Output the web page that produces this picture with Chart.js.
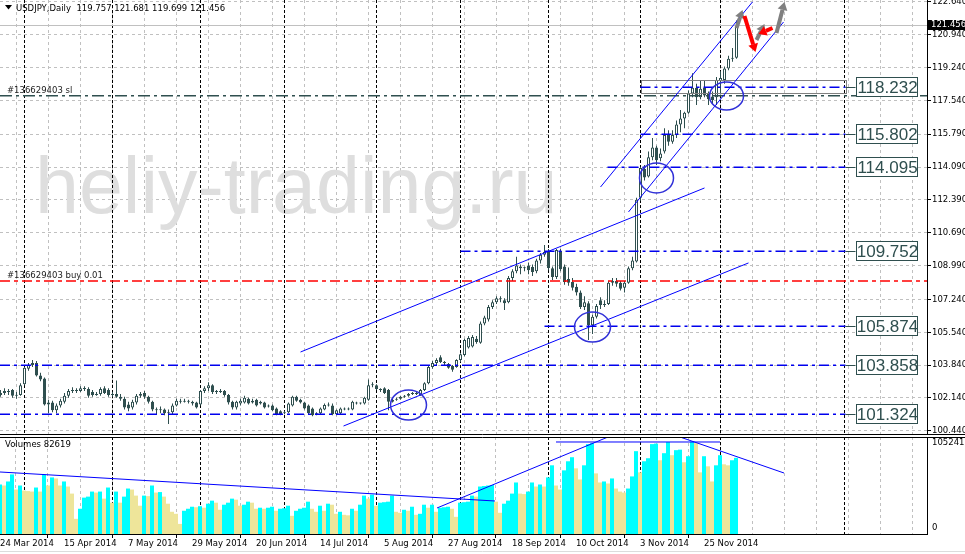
<!DOCTYPE html>
<html>
<head>
<meta charset="utf-8">
<script src="https://cdn.jsdelivr.net/npm/chart.js@4.4.1/dist/chart.umd.min.js"></script>
<style>
  html, body { margin: 0; padding: 0; background: #fff; overflow: hidden; }
  #wrap { position: relative; width: 965px; height: 554px; }
  canvas { position: absolute; left: 0; }
  #cPrice { top: 0; }
  #cVol { top: 437px; }
</style>
</head>
<body>
<div id="wrap">
  <canvas id="cPrice" width="965" height="435"></canvas>
  <canvas id="cVol" width="965" height="117"></canvas>
</div>
<script>
// USDJPY Daily, bar 0 = 24 Mar 2014 ... bar 184 = 5 Dec 2014
const opens = [
  102.30,102.40,102.50,102.55,102.25,102.30,102.85,103.65,103.85,103.95,
  103.30,103.15,101.80,101.90,101.50,101.75,101.95,102.25,102.50,102.55,
  102.50,102.65,102.60,102.45,102.30,102.35,102.65,102.55,102.30,102.35,
  102.20,102.10,101.80,101.65,101.90,102.25,102.40,102.20,101.95,101.55,
  101.50,101.55,101.35,101.40,101.75,102.00,101.95,102.00,101.95,101.90,
  101.80,102.50,102.65,102.80,102.45,102.45,102.50,102.30,101.95,101.65,
  101.85,101.90,102.10,101.90,102.05,101.85,101.90,101.70,101.75,101.60,
  101.45,101.35,101.40,101.75,102.20,102.05,101.90,101.75,101.60,101.30,
  101.35,101.55,101.78,101.75,101.30,101.35,101.55,101.55,101.55,101.90,
  101.85,101.85,102.05,102.80,102.80,102.55,102.65,102.55,101.95,102.05,
  102.10,102.20,102.25,102.35,102.35,102.30,102.55,102.90,103.75,103.95,
  104.25,103.95,103.90,103.80,103.75,104.10,104.37,104.75,104.80,105.20,
  105.00,106.00,106.20,106.85,107.10,107.25,107.20,107.10,108.35,108.70,
  108.95,108.85,109.00,108.92,108.70,109.25,109.55,109.70,108.85,108.40,
  109.75,108.95,108.30,108.15,107.90,107.60,106.85,107.05,105.90,106.35,
  107.20,106.95,107.00,108.10,108.20,108.10,107.85,108.10,108.85,109.20,
  112.50,114.00,113.60,114.60,115.10,114.55,114.90,115.75,115.40,115.75,
  116.30,116.60,116.90,117.90,118.20,117.70,118.20,117.90,117.75,117.70,
  118.55,118.60,119.20,119.70,119.757
];
const highs = [
  102.55,102.65,102.60,102.60,102.45,102.90,103.75,103.95,104.10,104.05,
  103.45,103.20,102.05,102.00,101.85,102.10,102.40,102.60,102.70,102.65,
  102.75,102.75,102.70,102.55,102.45,102.70,102.75,102.65,102.45,103.05,
  102.35,102.20,101.95,102.05,102.35,102.45,102.50,102.25,102.00,101.65,
  101.70,101.60,101.55,101.85,102.10,102.10,102.10,102.05,102.00,101.95,
  102.55,102.75,102.95,102.85,102.55,102.60,102.55,102.35,102.00,102.00,
  102.10,102.25,102.15,102.10,102.10,102.00,101.95,101.80,101.80,101.65,
  101.50,101.45,101.90,102.25,102.25,102.10,101.95,101.80,101.65,101.40,
  101.65,101.85,101.90,101.85,101.55,101.65,101.65,101.65,102.00,101.95,
  101.90,102.20,103.10,102.95,102.85,102.65,102.70,102.60,102.15,102.15,
  102.25,102.30,102.40,102.45,102.45,102.60,102.95,103.80,104.05,104.20,
  104.35,104.05,103.95,103.85,104.15,104.45,105.20,105.35,105.40,105.35,
  106.10,106.40,106.95,107.20,107.40,107.40,107.30,108.45,108.80,109.45,
  109.05,108.95,109.15,109.05,109.35,109.65,110.06,109.85,108.95,109.85,
  109.85,109.05,108.90,108.35,108.05,107.70,107.40,107.15,106.45,107.00,
  107.35,107.20,108.20,108.35,108.35,108.20,108.20,108.95,109.45,112.50,
  114.10,114.20,114.90,115.60,115.20,115.05,116.10,116.00,116.00,116.50,
  117.05,116.95,118.05,118.95,118.40,118.60,118.55,118.00,118.00,118.75,
  119.05,119.30,119.85,120.25,121.681
];
const lows = [
  102.20,102.30,102.30,102.15,102.10,102.25,102.80,103.55,103.75,103.25,
  103.00,101.75,101.35,101.40,101.35,101.65,101.85,102.15,102.40,102.40,
  102.45,102.50,102.15,102.20,102.25,102.25,102.35,102.20,102.20,102.15,
  102.00,101.55,101.45,101.55,101.80,102.15,102.10,101.85,101.45,101.30,
  101.35,101.25,100.80,101.30,101.70,101.85,101.90,101.85,101.75,101.60,
  101.75,102.40,102.50,102.35,102.35,102.40,102.20,101.80,101.55,101.55,
  101.75,101.85,101.80,101.85,101.70,101.80,101.60,101.65,101.45,101.25,
  101.25,101.30,101.35,101.70,101.95,101.85,101.55,101.30,101.20,101.25,
  101.30,101.50,101.70,101.25,101.25,101.30,101.50,101.50,101.50,101.80,
  101.80,101.80,102.00,102.70,102.55,102.45,102.35,101.50,101.90,102.00,
  102.05,102.15,102.20,102.30,102.30,102.25,102.50,102.85,103.65,103.85,
  103.95,103.85,103.65,103.50,103.70,104.00,104.30,104.70,104.75,104.95,
  104.95,105.90,106.10,106.75,107.00,107.10,106.70,107.05,108.20,108.60,
  108.55,108.70,108.55,108.45,108.60,109.10,109.45,108.75,108.25,108.30,
  108.70,108.00,107.95,107.70,107.45,106.75,106.70,105.14,105.45,106.25,
  106.75,106.85,106.95,107.95,107.90,107.70,107.60,108.05,108.75,109.15,
  112.35,113.40,113.55,114.45,114.20,114.40,114.80,115.20,115.30,115.60,
  115.90,116.10,116.85,117.70,117.30,117.60,117.70,117.30,117.35,117.30,
  117.85,118.40,119.10,119.55,119.699
];
const closes = [
  102.40,102.50,102.45,102.25,102.30,102.80,103.70,103.85,103.95,103.30,
  103.10,101.80,101.90,101.50,101.75,102.00,102.25,102.50,102.55,102.50,
  102.65,102.60,102.25,102.30,102.35,102.60,102.40,102.30,102.30,102.20,
  102.10,101.65,101.60,101.95,102.25,102.35,102.20,101.95,101.55,101.50,
  101.55,101.35,101.40,101.75,102.00,101.95,102.00,101.95,101.85,101.65,
  102.50,102.65,102.80,102.45,102.45,102.50,102.30,101.90,101.65,101.95,
  102.00,102.15,101.85,102.00,101.75,101.95,101.65,101.72,101.50,101.30,
  101.30,101.40,101.85,102.20,102.00,101.90,101.60,101.35,101.25,101.35,
  101.60,101.78,101.75,101.30,101.50,101.60,101.55,101.60,101.95,101.85,
  101.85,102.15,102.80,102.80,102.60,102.55,102.40,101.95,102.05,102.10,
  102.20,102.25,102.35,102.35,102.40,102.55,102.90,103.75,103.95,104.10,
  104.00,103.95,103.70,103.60,104.10,104.40,105.14,105.25,105.30,105.04,
  106.00,106.30,106.85,107.10,107.30,107.25,107.05,108.35,108.70,109.00,
  108.85,108.90,108.75,108.66,109.25,109.55,109.70,108.87,108.40,109.80,
  108.80,108.15,108.10,107.85,107.60,106.85,107.10,105.90,106.35,106.90,
  106.95,107.00,108.10,108.20,108.05,107.80,108.10,108.85,109.25,112.40,
  114.05,113.55,114.60,115.10,114.45,114.80,115.75,115.40,115.75,116.30,
  116.60,116.90,117.90,118.20,117.70,118.15,117.80,117.60,117.55,118.60,
  118.70,119.20,119.70,119.757,121.456
];
const volumes = [
  53700,52610,56990,64660,48220,52610,47130,46580,46030,50420,
  46030,64660,52610,61380,60280,52610,56990,51510,43840,16440,
  27400,39460,40550,46030,44940,46030,38360,50420,33980,46030,
  33980,40550,49320,48220,41650,30690,41650,41100,52610,44940,
  45480,40550,32880,24110,21920,10960,25210,27400,29590,29040,
  30140,28500,32880,36170,33980,26300,31780,33980,38360,37260,
  30690,31780,35070,33980,27400,28500,27400,28500,29590,25210,
  27400,27950,30690,19730,25210,27400,28500,35070,27400,24110,
  30690,25210,32880,31780,21920,24110,20820,20280,27400,25210,
  31780,41650,38360,42740,30690,33980,34520,35070,41650,24110,
  23020,26300,25210,29590,20820,21920,31780,28500,31780,24110,
  28500,29040,29590,27400,18630,33980,34520,35070,41650,40550,
  51510,52060,52610,53160,35070,23020,32880,36170,43840,55900,
  43840,43290,46030,55900,51510,53700,51510,61380,74530,52610,
  48220,69050,78910,83300,71240,59180,74530,97540,98640,65760,
  55900,56990,54800,60280,49320,46030,44940,49320,62470,89870,
  66860,78910,82200,97540,98090,80010,87680,99740,85490,90970,
  91520,77820,84390,100280,98640,66860,84390,73430,56990,74530,
  85490,75620,74530,80010,82619
];

// axes
const priceTicks = [100.44,102.14,103.84,105.54,107.24,108.99,110.69,112.39,114.09,115.79,117.54,119.24,120.94,122.64];
const PRICE_MIN = 100.276, PRICE_MAX = 122.74;
const VOL_MAX = 105241;
const tickIdx = [0,16,32,48,64,80,96,112,128,144,160,176];
const tickLabels = ['24 Mar 2014','15 Apr 2014','7 May 2014','29 May 2014','20 Jun 2014','14 Jul 2014',
                    '5 Aug 2014','27 Aug 2014','18 Sep 2014','10 Oct 2014','3 Nov 2014','25 Nov 2014'];
const gridIdx = [0,8,16,24,32,40,48,56,64,72,80,88,96,104,112,120,128,136,144,152,160,168,176,184,192,200,208,216,224];
const monthIdx = [6,28,50,71,94,115,137,160,180,211];

// drawn objects (bar index, price)
const levelPrices = [118.232,115.802,114.095,109.752,105.874,103.858,101.324];
const levelStart  = [160,160,151.75,115,136,-1,-1];
const LEVEL_END = 211.25, BOX_LEFT = 213.75;
const slPrice = 117.79, buyPrice = 108.2, bidPrice = 121.456;
const zoneTop = 118.6, zoneBottom = 117.93, zoneFrom = 160;
const trendLines = [
  [75, 104.52, 176, 113.01],
  [85.75, 100.69, 187, 109.13],
  [150, 113.06, 188, 122.64],
  [157, 111.77, 195.75, 121.60]
];
const circles = [[102, 101.78], [148, 105.81], [164, 113.53], [181.5, 117.77]];
const arrowsGray = [[184, 121.29, 185.5, 122.22], [189, 120.67, 191, 121.5], [194, 121.03, 196, 122.64]];
const arrowsRed = [[186, 121.91, 188.75, 120.05], [193, 121.29, 189.5, 120.98]];
// trend lines on volumes (bar index, volume)
const volLines = [
  [0, 67270, 123.75, 35800],
  [109.25, 28210, 152, 105241],
  [139, 99820, 180, 99820],
  [170, 105241, 196, 66180]
];

const DARK = '#2F4F4F';
const GRID = '#c0c0c0';
const SMALL = '"DejaVu Sans", sans-serif';
const idx = closes.map((c, i) => i);

function seg(ctx, x1, y1, x2, y2, color, width, dash) {
  ctx.save();
  ctx.strokeStyle = color;
  ctx.lineWidth = width;
  ctx.setLineDash(dash || []);
  ctx.beginPath();
  ctx.moveTo(x1, y1);
  ctx.lineTo(x2, y2);
  ctx.stroke();
  ctx.restore();
}

function arrow(ctx, x1, y1, x2, y2, color) {
  const a = Math.atan2(y2 - y1, x2 - x1), L = 8, W = 5;
  const bx = x2 - L * Math.cos(a), by = y2 - L * Math.sin(a);
  ctx.save();
  ctx.strokeStyle = color;
  ctx.fillStyle = color;
  ctx.lineWidth = 4;
  ctx.beginPath();
  ctx.moveTo(x1, y1);
  ctx.lineTo(bx, by);
  ctx.stroke();
  ctx.beginPath();
  ctx.moveTo(x2, y2);
  ctx.lineTo(bx + W * Math.sin(a), by - W * Math.cos(a));
  ctx.lineTo(bx - W * Math.sin(a), by + W * Math.cos(a));
  ctx.closePath();
  ctx.fill();
  ctx.restore();
}

function separators(chart) {
  const {ctx, chartArea: a, scales: {x}} = chart;
  monthIdx.forEach(m => {
    const px = Math.floor(x.getPixelForValue(m)) + 0.5;
    seg(ctx, px, a.top, px, a.bottom, '#000', 1, [3, 2]);
  });
}

const pricePlugin = {
  id: 'priceObjects',
  beforeDatasetsDraw(chart) {
    const {ctx} = chart;
    ctx.save();
    ctx.font = '79px "Liberation Sans", Arial, sans-serif';
    ctx.fillStyle = '#dedede';
    ctx.textBaseline = 'alphabetic';
    ctx.fillText('heliy-trading.ru', 35, 213);
    ctx.restore();
    separators(chart);
  },
  afterDatasetsDraw(chart) {
    const {ctx, chartArea: a, scales: {x, y}} = chart;
    const X = v => x.getPixelForValue(v), Y = v => y.getPixelForValue(v);
    ctx.save();
    ctx.beginPath();
    ctx.rect(a.left, a.top, a.right - a.left, a.bottom - a.top);
    ctx.clip();

    // bid line
    seg(ctx, a.left, Math.round(Y(bidPrice)) + 0.5, a.right, Math.round(Y(bidPrice)) + 0.5, '#c0c0c0', 1);
    // zone rectangle
    ctx.strokeStyle = '#808080';
    ctx.lineWidth = 1;
    ctx.strokeRect(Math.round(X(zoneFrom)) + 0.5, Math.round(Y(zoneTop)) + 0.5,
      Math.round(X(LEVEL_END) - X(zoneFrom)), Math.round(Y(zoneBottom) - Y(zoneTop)));
    // order lines
    seg(ctx, a.left, Y(slPrice), a.right, Y(slPrice), DARK, 1.5, [12, 4, 3, 4]);
    seg(ctx, a.left, Y(buyPrice), a.right, Y(buyPrice), '#ff0000', 1.5, [10, 4, 4, 4]);
    // levels
    levelPrices.forEach((p, k) => {
      const py = Math.round(Y(p)) + 0.25;
      seg(ctx, Math.max(a.left, X(levelStart[k])), py, X(LEVEL_END), py, '#0000ee', 1.5, [10, 4, 3, 4]);
      seg(ctx, X(LEVEL_END), Math.round(Y(p)) + 0.5, X(BOX_LEFT), Math.round(Y(p)) + 0.5, DARK, 1);
    });
    // channels
    trendLines.forEach(t => seg(ctx, X(t[0]), Y(t[1]), X(t[2]), Y(t[3]), '#0000ff', 1));
    // circles
    const radii = [[18, 15], [18, 15], [17, 15], [17, 14]];
    circles.forEach((c, k) => {
      ctx.beginPath();
      ctx.ellipse(X(c[0]), Y(c[1]), radii[k][0], radii[k][1], 0, 0, Math.PI * 2);
      ctx.strokeStyle = '#3030d8';
      ctx.lineWidth = 1.5;
      ctx.stroke();
    });
    arrowsGray.forEach(r => arrow(ctx, X(r[0]), Y(r[1]), X(r[2]), Y(r[3]), '#808080'));
    arrowsRed.forEach(r => arrow(ctx, X(r[0]), Y(r[1]), X(r[2]), Y(r[3]), '#ff0000'));

    // order labels
    ctx.font = '8.5px ' + SMALL;
    ctx.fillStyle = '#222';
    ctx.textAlign = 'left';
    ctx.textBaseline = 'alphabetic';
    ctx.fillText('#136629403 sl', 7, Y(slPrice) - 3);
    ctx.fillText('#136629403 buy 0.01', 7, Y(buyPrice) - 3);
    ctx.restore();

    // level boxes
    ctx.save();
    ctx.font = '17px "Liberation Sans", Arial, sans-serif';
    ctx.textAlign = 'center';
    ctx.textBaseline = 'middle';
    levelPrices.forEach(p => {
      const py = Math.round(Y(p));
      const bx = Math.round(X(BOX_LEFT)) + 0.5;
      ctx.fillStyle = '#fff';
      ctx.fillRect(bx, py - 9.5, 61, 19);
      ctx.strokeStyle = DARK;
      ctx.lineWidth = 1;
      ctx.strokeRect(bx, py - 9.5, 61, 19);
      ctx.fillStyle = DARK;
      ctx.fillText(p.toFixed(3), bx + 31, py + 1);
    });
    ctx.restore();

    // header and bottom border
    ctx.save();
    ctx.fillStyle = '#000';
    ctx.beginPath();
    ctx.moveTo(5, 5); ctx.lineTo(12, 5); ctx.lineTo(8.5, 9.5); ctx.closePath();
    ctx.fill();
    ctx.font = '8.5px ' + SMALL;
    ctx.textBaseline = 'alphabetic';
    const last = closes.length - 1;
    ctx.fillText('USDJPY,Daily  ' + opens[last].toFixed(3) + ' ' + highs[last].toFixed(3) + ' ' +
      lows[last].toFixed(3) + ' ' + closes[last].toFixed(3), 16, 11);
    ctx.restore();
    seg(ctx, 0, a.bottom + 0.5, chart.width, a.bottom + 0.5, '#000', 1);
  },
  afterDraw(chart) {
    const {ctx, chartArea: a, scales: {y}} = chart;
    const py = Math.round(y.getPixelForValue(bidPrice));
    ctx.save();
    ctx.fillStyle = '#000';
    ctx.fillRect(a.right, py - 5, chart.width - a.right, 10);
    ctx.fillStyle = '#fff';
    ctx.font = '8.5px ' + SMALL;
    ctx.textBaseline = 'middle';
    ctx.fillText(bidPrice.toFixed(3), a.right + 4, py);
    ctx.restore();
  }
};

const volPlugin = {
  id: 'volObjects',
  beforeDatasetsDraw(chart) {
    separators(chart);
  },
  afterDatasetsDraw(chart) {
    const {ctx, chartArea: a, scales: {x, y}} = chart;
    ctx.save();
    ctx.beginPath();
    ctx.rect(a.left, a.top, a.right - a.left, a.bottom - a.top);
    ctx.clip();
    volLines.forEach(t => seg(ctx, x.getPixelForValue(t[0]), y.getPixelForValue(t[1]),
      x.getPixelForValue(t[2]), y.getPixelForValue(t[3]), '#0000ff', 1));
    ctx.restore();
    ctx.save();
    ctx.font = '8.5px ' + SMALL;
    ctx.fillStyle = '#000';
    ctx.textBaseline = 'middle';
    ctx.fillText('Volumes ' + volumes[volumes.length - 1], 5, 8);
    ctx.fillText(String(VOL_MAX), a.right + 5, y.getPixelForValue(VOL_MAX) + 6);
    ctx.fillText('0', a.right + 5, y.getPixelForValue(0) - 6);
    ctx.restore();
    seg(ctx, 0, 0.5, chart.width, 0.5, '#000', 1);
    seg(ctx, 0, chart.height - 2.5, chart.width, chart.height - 2.5, '#dcdcdc', 1);
  }
};

const noPad = s => { s.paddingTop = 0; s.paddingBottom = 0; s.paddingLeft = 0; s.paddingRight = 0; };

new Chart(document.getElementById('cPrice'), {
  type: 'bar',
  data: {
    datasets: [
      {
        label: 'wick',
        data: idx.map(i => ({x: i, y: [lows[i], highs[i]]})),
        backgroundColor: DARK,
        barThickness: 1,
        borderWidth: 0,
        inflateAmount: 0,
        grouped: false,
        order: 2
      },
      {
        label: 'body',
        data: idx.map(i => ({x: i, y: [opens[i], closes[i]]})),
        backgroundColor: idx.map(i => closes[i] >= opens[i] ? '#ffffff' : DARK),
        borderColor: DARK,
        borderWidth: 1,
        borderSkipped: false,
        barThickness: 3,
        minBarLength: 1,
        inflateAmount: 0,
        grouped: false,
        order: 1
      }
    ]
  },
  options: {
    responsive: false,
    animation: false,
    devicePixelRatio: 1,
    layout: {padding: 0},
    plugins: {legend: {display: false}, tooltip: {enabled: false}},
    scales: {
      x: {
        type: 'linear', min: -0.125, max: 231.625, offset: false,
        afterBuildTicks: s => { s.ticks = gridIdx.map(v => ({value: v})); },
        afterFit: s => { s.height = 1; noPad(s); },
        ticks: {display: false},
        grid: {color: GRID, drawTicks: false, borderDash: [3, 3]},
        border: {display: false, dash: [3, 3]}
      },
      y: {
        type: 'linear', position: 'right', min: PRICE_MIN, max: PRICE_MAX,
        afterBuildTicks: s => { s.ticks = priceTicks.map(v => ({value: v})); },
        afterFit: s => { s.width = 38; noPad(s); },
        ticks: {
          callback: v => v.toFixed(3),
          font: {family: SMALL, size: 8.5},
          color: '#000',
          padding: 1,
          crossAlign: 'near'
        },
        grid: {color: GRID, tickColor: '#000', tickLength: 4, tickBorderDash: [], borderDash: [3, 3]},
        border: {display: true, color: '#000', dash: [3, 3]}
      }
    }
  },
  plugins: [pricePlugin]
});

new Chart(document.getElementById('cVol'), {
  type: 'bar',
  data: {
    datasets: [{
      label: 'Volumes',
      data: idx.map(i => ({x: i, y: volumes[i]})),
      backgroundColor: idx.map(i => (i === 0 || volumes[i] > volumes[i - 1]) ? '#00ffff' : '#eee59a'),
      barThickness: 4,
      borderWidth: 0,
      inflateAmount: 0
    }]
  },
  options: {
    responsive: false,
    animation: false,
    devicePixelRatio: 1,
    layout: {padding: 0},
    plugins: {legend: {display: false}, tooltip: {enabled: false}},
    scales: {
      x: {
        type: 'linear', min: 0, max: 231.75, offset: false,
        afterBuildTicks: s => { s.ticks = gridIdx.map(v => ({value: v})); },
        afterFit: s => { s.height = 20; noPad(s); },
        ticks: {
          callback: v => { const k = tickIdx.indexOf(v); return k >= 0 ? tickLabels[k] : ''; },
          align: 'start', maxRotation: 0, minRotation: 0, autoSkip: false, padding: 1,
          font: {family: SMALL, size: 8.5}, color: '#000'
        },
        grid: {
          color: GRID, tickLength: 4, borderDash: [3, 3], tickBorderDash: [],
          tickColor: c => tickIdx.includes(c.tick && c.tick.value) ? '#000' : 'rgba(0,0,0,0)'
        },
        border: {display: true, color: '#000', dash: [3, 3]}
      },
      y: {
        type: 'linear', position: 'right', min: 0, max: VOL_MAX,
        afterFit: s => { s.width = 38; noPad(s); },
        ticks: {display: false},
        grid: {display: false},
        border: {display: true, color: '#000'}
      }
    }
  },
  plugins: [volPlugin]
});
</script>
</body>
</html>
